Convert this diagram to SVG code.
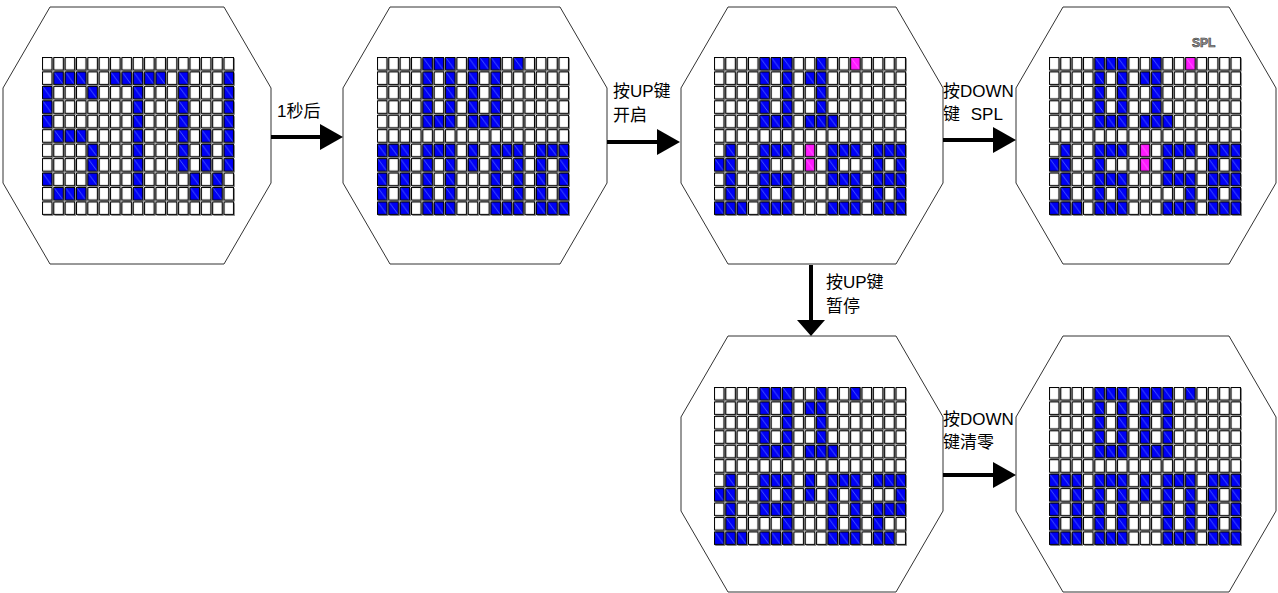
<svg xmlns="http://www.w3.org/2000/svg" xmlns:xlink="http://www.w3.org/1999/xlink" width="1278" height="593" viewBox="0 0 1278 593">
<style>
.oct{fill:#fff;stroke:#333;stroke-width:1}
.bg{fill:url(#W)}
.b{fill:url(#B)}
.p{fill:url(#P)}
.t{font-family:"Liberation Sans","Noto Sans CJK SC",sans-serif;font-size:17px;fill:#000}
.sh{stroke:#000;stroke-width:4;fill:none}
</style>
<defs>
<pattern id="W" width="11.35" height="14.45" patternUnits="userSpaceOnUse">
<rect width="11.35" height="14.45" fill="#fff"/>
<rect x="0.5" y="0.5" width="9.4" height="12.4" fill="#fff" stroke="#000"/>
<path d="M10.9,1.2V13.9H1.2" fill="none" stroke="#8a8a8a"/>
</pattern>
<pattern id="B" width="11.35" height="14.45" patternUnits="userSpaceOnUse">
<rect width="11.35" height="14.45" fill="#fff"/>
<rect x="0.5" y="0.5" width="9.4" height="12.4" fill="#0000f5" stroke="#000"/>
<path d="M1.3,1.3L9.2,12.2" stroke="#6f8fff" stroke-width="0.6"/>
<path d="M10.9,1.2V13.9H1.2" fill="none" stroke="#8a8a8a"/>
</pattern>
<pattern id="P" width="11.35" height="14.45" patternUnits="userSpaceOnUse">
<rect width="11.35" height="14.45" fill="#fff"/>
<rect x="0.5" y="0.5" width="9.4" height="12.4" fill="#ff1aff" stroke="#000"/>
<path d="M1.3,1.3L9.2,12.2" stroke="#ff8cff" stroke-width="0.6"/>
<path d="M10.9,1.2V13.9H1.2" fill="none" stroke="#8a8a8a"/>
</pattern>
<marker id="mA" markerUnits="userSpaceOnUse" markerWidth="24" markerHeight="26" viewBox="0 0 24 26" refX="15" refY="13" orient="auto">
<path d="M0,0L23,13L0,26z" fill="#000"/>
</marker>
<marker id="mD" markerUnits="userSpaceOnUse" markerWidth="17" markerHeight="28" viewBox="0 0 17 28" refX="10" refY="14" orient="auto">
<path d="M0,0L16,14L0,28z" fill="#000"/>
</marker>
<g id="top00">
<rect class="b" x="45.4" y="0" width="11.35" height="72.25"/>
<rect class="b" x="68.1" y="0" width="11.35" height="72.25"/>
<rect class="b" x="56.75" y="0" width="11.35" height="14.45"/>
<rect class="b" x="56.75" y="57.8" width="11.35" height="14.45"/>
<rect class="b" x="90.8" y="0" width="11.35" height="72.25"/>
<rect class="b" x="113.5" y="0" width="11.35" height="72.25"/>
<rect class="b" x="102.15" y="0" width="11.35" height="14.45"/>
<rect class="b" x="102.15" y="57.8" width="11.35" height="14.45"/>
<rect class="b" x="136.2" y="0" width="11.35" height="14.45"/>
</g>
<g id="bot0000">
<rect class="b" x="0" y="86.7" width="11.35" height="72.25"/>
<rect class="b" x="22.7" y="86.7" width="11.35" height="72.25"/>
<rect class="b" x="45.4" y="86.7" width="11.35" height="72.25"/>
<rect class="b" x="68.1" y="86.7" width="11.35" height="72.25"/>
<rect class="b" x="113.5" y="86.7" width="11.35" height="72.25"/>
<rect class="b" x="136.2" y="86.7" width="11.35" height="72.25"/>
<rect class="b" x="158.9" y="86.7" width="11.35" height="72.25"/>
<rect class="b" x="181.6" y="86.7" width="11.35" height="72.25"/>
<rect class="b" x="11.35" y="86.7" width="11.35" height="14.45"/>
<rect class="b" x="11.35" y="144.5" width="11.35" height="14.45"/>
<rect class="b" x="56.75" y="86.7" width="11.35" height="14.45"/>
<rect class="b" x="56.75" y="144.5" width="11.35" height="14.45"/>
<rect class="b" x="124.85" y="86.7" width="11.35" height="14.45"/>
<rect class="b" x="124.85" y="144.5" width="11.35" height="14.45"/>
<rect class="b" x="170.25" y="86.7" width="11.35" height="14.45"/>
<rect class="b" x="170.25" y="144.5" width="11.35" height="14.45"/>
<rect class="b" x="90.8" y="86.7" width="11.35" height="28.9"/>
</g>
<g id="top01">
<rect class="b" x="45.4" y="0" width="11.35" height="72.25"/>
<rect class="b" x="68.1" y="0" width="11.35" height="72.25"/>
<rect class="b" x="56.75" y="0" width="11.35" height="14.45"/>
<rect class="b" x="56.75" y="57.8" width="11.35" height="14.45"/>
<rect class="b" x="102.15" y="0" width="11.35" height="72.25"/>
<rect class="b" x="90.8" y="14.45" width="11.35" height="14.45"/>
<rect class="b" x="90.8" y="57.8" width="11.35" height="14.45"/>
<rect class="b" x="113.5" y="57.8" width="11.35" height="14.45"/>
</g>
<g id="bot1">
<rect class="b" x="11.35" y="86.7" width="11.35" height="72.25"/>
<rect class="b" x="0" y="101.15" width="11.35" height="14.45"/>
<rect class="b" x="0" y="144.5" width="11.35" height="14.45"/>
<rect class="b" x="22.7" y="144.5" width="11.35" height="14.45"/>
</g>
<g id="bot658">
<rect class="b" x="45.4" y="86.7" width="11.35" height="72.25"/>
<rect class="b" x="56.75" y="86.7" width="11.35" height="14.45"/>
<rect class="b" x="56.75" y="115.6" width="11.35" height="14.45"/>
<rect class="b" x="56.75" y="144.5" width="11.35" height="14.45"/>
<rect class="b" x="68.1" y="86.7" width="11.35" height="14.45"/>
<rect class="b" x="68.1" y="115.6" width="11.35" height="43.35"/>
<rect class="p" x="90.8" y="86.7" width="11.35" height="28.9"/>
<rect class="b" x="113.5" y="86.7" width="11.35" height="43.35"/>
<rect class="b" x="113.5" y="144.5" width="11.35" height="14.45"/>
<rect class="b" x="124.85" y="86.7" width="11.35" height="14.45"/>
<rect class="b" x="124.85" y="115.6" width="11.35" height="14.45"/>
<rect class="b" x="124.85" y="144.5" width="11.35" height="14.45"/>
<rect class="b" x="136.2" y="86.7" width="11.35" height="14.45"/>
<rect class="b" x="136.2" y="115.6" width="11.35" height="43.35"/>
<rect class="b" x="158.9" y="86.7" width="11.35" height="72.25"/>
<rect class="b" x="181.6" y="86.7" width="11.35" height="72.25"/>
<rect class="b" x="170.25" y="86.7" width="11.35" height="14.45"/>
<rect class="b" x="170.25" y="115.6" width="11.35" height="14.45"/>
<rect class="b" x="170.25" y="144.5" width="11.35" height="14.45"/>
</g>
<g id="grid3">
<rect class="bg" x="0" y="0" width="192.95" height="158.95"/>
<use xlink:href="#top01"/>
<rect class="p" x="136.2" y="0" width="11.35" height="14.45"/>
<use xlink:href="#bot1"/>
<use xlink:href="#bot658"/>
</g>
<g id="grid00">
<rect class="bg" x="0" y="0" width="192.95" height="158.95"/>
<use xlink:href="#top00"/>
<use xlink:href="#bot0000"/>
</g>
</defs>

<g id="display-stw">
<polygon class="oct" points="50,7 224,7 271,88 271,183 224,264 50,264 3,183 3,88"/>
<g transform="translate(42,57)">
<rect class="bg" x="0" y="0" width="192.95" height="158.95"/>
<rect class="b" x="11.35" y="14.45" width="34.05" height="14.45"/>
<rect class="b" x="68.1" y="14.45" width="56.75" height="14.45"/>
<rect class="b" x="90.8" y="14.45" width="11.35" height="130.05"/>
<rect class="b" x="136.2" y="14.45" width="11.35" height="101.15"/>
<rect class="b" x="181.6" y="14.45" width="11.35" height="101.15"/>
<rect class="b" x="0" y="28.9" width="11.35" height="43.35"/>
<rect class="b" x="45.4" y="28.9" width="11.35" height="14.45"/>
<rect class="b" x="11.35" y="72.25" width="34.05" height="14.45"/>
<rect class="b" x="158.9" y="72.25" width="11.35" height="43.35"/>
<rect class="b" x="45.4" y="86.7" width="11.35" height="43.35"/>
<rect class="b" x="0" y="115.6" width="11.35" height="14.45"/>
<rect class="b" x="147.55" y="115.6" width="11.35" height="28.9"/>
<rect class="b" x="170.25" y="115.6" width="11.35" height="28.9"/>
<rect class="b" x="11.35" y="130.05" width="34.05" height="14.45"/>
</g>
</g>

<g id="display-reset">
<polygon class="oct" points="390,7 560,7 607,88 607,183 560,264 390,264 343,183 343,88"/>
<use xlink:href="#grid00" transform="translate(377,57)"/>
</g>

<g id="display-running">
<polygon class="oct" points="728,7 896,7 943,88 943,183 896,264 728,264 681,183 681,88"/>
<use xlink:href="#grid3" transform="translate(714,57)"/>
</g>

<g id="display-split">
<polygon class="oct" points="1063,7 1229,7 1276,88 1276,183 1229,264 1063,264 1016,183 1016,88"/>
<use xlink:href="#grid3" transform="translate(1049,57)"/>
<text x="1192" y="47" font-family="Liberation Sans,sans-serif" font-size="12" font-weight="bold" fill="#9a9a9a" stroke="#333" stroke-width="0.6">SPL</text>
</g>

<g id="display-paused">
<polygon class="oct" points="728,336 896,336 943,417 943,511 896,592 728,592 681,511 681,417"/>
<g transform="translate(714,387)">
<rect class="bg" x="0" y="0" width="192.95" height="158.95"/>
<use xlink:href="#top01"/>
<rect class="b" x="136.2" y="0" width="11.35" height="14.45"/>
<use xlink:href="#bot1"/>
<rect class="b" x="45.4" y="86.7" width="11.35" height="43.35"/>
<rect class="b" x="45.4" y="144.5" width="11.35" height="14.45"/>
<rect class="b" x="56.75" y="86.7" width="11.35" height="14.45"/>
<rect class="b" x="56.75" y="115.6" width="11.35" height="14.45"/>
<rect class="b" x="56.75" y="144.5" width="11.35" height="14.45"/>
<rect class="b" x="68.1" y="86.7" width="11.35" height="72.25"/>
<rect class="b" x="90.8" y="86.7" width="11.35" height="28.9"/>
<rect class="b" x="113.5" y="86.7" width="11.35" height="72.25"/>
<rect class="b" x="136.2" y="86.7" width="11.35" height="72.25"/>
<rect class="b" x="124.85" y="86.7" width="11.35" height="14.45"/>
<rect class="b" x="124.85" y="144.5" width="11.35" height="14.45"/>
<rect class="b" x="158.9" y="86.7" width="11.35" height="14.45"/>
<rect class="b" x="158.9" y="115.6" width="11.35" height="43.35"/>
<rect class="b" x="170.25" y="86.7" width="11.35" height="14.45"/>
<rect class="b" x="170.25" y="115.6" width="11.35" height="14.45"/>
<rect class="b" x="170.25" y="144.5" width="11.35" height="14.45"/>
<rect class="b" x="181.6" y="86.7" width="11.35" height="43.35"/>
</g>
</g>

<g id="display-cleared">
<polygon class="oct" points="1063,336 1229,336 1276,417 1276,511 1229,592 1063,592 1016,511 1016,417"/>
<use xlink:href="#grid00" transform="translate(1049,387)"/>
</g>

<g id="connectors">
<line class="sh" x1="271" y1="137" x2="335" y2="137" marker-end="url(#mA)"/>
<line class="sh" x1="607" y1="142" x2="672" y2="142" marker-end="url(#mA)"/>
<line class="sh" x1="943" y1="140" x2="1008" y2="140" marker-end="url(#mA)"/>
<line class="sh" x1="943" y1="475" x2="1008" y2="475" marker-end="url(#mA)"/>
<line class="sh" x1="811" y1="265" x2="811" y2="330" stroke-width="5" marker-end="url(#mD)"/>
</g>

<g id="labels">
<text class="t" x="277" y="117">1秒后</text>
<text class="t" x="613" y="97">按UP键</text>
<text class="t" x="613" y="121">开启</text>
<text class="t" x="943" y="97">按DOWN</text>
<text class="t" x="943" y="120" word-spacing="6">键 SPL</text>
<text class="t" x="826" y="288">按UP键</text>
<text class="t" x="826" y="312">暂停</text>
<text class="t" x="943" y="425">按DOWN</text>
<text class="t" x="943" y="448">键清零</text>
</g>
</svg>
